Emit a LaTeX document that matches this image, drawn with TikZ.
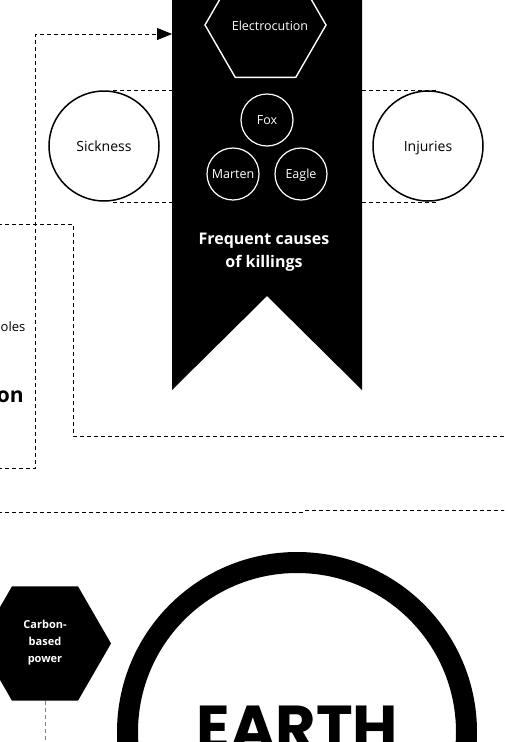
\documentclass[tikz,border=0pt]{standalone}
\usepackage{fontspec}
\setmainfont{Open Sans}
\newfontfamily\earthfont{Poppins}
\usetikzlibrary{arrows.meta,shapes.geometric}
\begin{document}
\begin{tikzpicture}[x=1pt,y=-1pt,
  dashline/.style={draw=black, line width=0.9pt, dash pattern=on 4pt off 3pt},
  whitecirc/.style={circle, draw=white, line width=1.2pt, minimum size=52pt, inner sep=0pt, text=white, text height=9pt, text depth=0pt, font=\fontsize{12.5}{14}\selectfont},
  bigcirc/.style={circle, draw=black, line width=1.5pt, minimum size=110pt, inner sep=0pt, text height=10pt, text depth=0pt, font=\fontsize{14}{16}\selectfont},
  hexa/.style={regular polygon, regular polygon sides=6, inner sep=0pt},
]
\useasboundingbox (0,0) rectangle (504,742);
\clip (0,0) rectangle (504,742);

% banner
\fill[black] (172,-2) -- (362,-2) -- (362,390) -- (267,296) -- (172,390) -- cycle;
\coordinate (bannerTL) at (172,34);

\node[hexa, draw=white, line width=1.4pt, minimum size=121pt] (elec) at (265.5,25) {};
\node[text=white, text height=9pt, text depth=0pt, font=\fontsize{12.5}{14}\selectfont] (electext) at (270,25.5) {Electrocution};

\node[whitecirc] (fox) at (267,120) {Fox};
\node[whitecirc] (marten) at (233,174) {Marten};
\node[whitecirc] (eagle) at (301,174) {Eagle};

\node[text=white, font=\fontsize{16}{23}\selectfont\bfseries, align=center] (freq) at (264,252) {Frequent causes\\of killings};

% side circles
\node[bigcirc] (sick) at (104,146) {Sickness};
\node[bigcirc] (inj) at (428,146) {Injuries};

\coordinate (sickT) at (113,90);
\coordinate (sickB) at (113,202);
\coordinate (bannerLT) at (172,90);
\coordinate (bannerLB) at (172,202);
\coordinate (bannerRT) at (362,90);
\coordinate (bannerRB) at (362,202);
\coordinate (injT) at (437,90);
\coordinate (injB) at (437,202);
\draw[dashline] (sickT) -- (bannerLT);
\draw[dashline] (sickB) -- (bannerLB);
\draw[dashline] (bannerRT) -- (injT);
\draw[dashline] (bannerRB) -- (injB);

% dashed arrow into banner
\coordinate (arrStart) at (-2,468);
\coordinate (arrCorner1) at (35.5,468);
\coordinate (arrCorner2) at (35.5,34);
\draw[dashline, -{Triangle[length=15pt,width=12pt]}] (arrStart) -- (arrCorner1) -- (arrCorner2) -- (bannerTL);

% second dashed route
\coordinate (r2a) at (-2,224);
\coordinate (r2b) at (73,224);
\coordinate (r2c) at (73,436);
\coordinate (r2d) at (506,436);
\draw[dashline] (r2a) -- (r2b) -- (r2c) -- (r2d);

% horizontal separators
\coordinate (s1a) at (-2,512);
\coordinate (s1b) at (305,512);
\coordinate (s2a) at (305,510.5);
\coordinate (s2b) at (506,510.5);
\draw[dashline] (s1a) -- (s1b);
\draw[dashline] (s2a) -- (s2b);

% cut-off texts on the left
\node[anchor=base east, inner sep=0pt, font=\fontsize{13}{15}\selectfont] (oles) at (25.5,331) {oles};
\node[anchor=base east, inner sep=0pt, font=\fontsize{21}{24}\selectfont\bfseries] (on) at (24,402) {on};

% carbon-based power
\node[hexa, fill=black, minimum size=132pt] (carbon) at (45,643.5) {};
\node[text=white, align=center, font=\fontsize{11}{17}\selectfont\bfseries] (carbontext) at (45,643) {Carbon-\\based\\power};
\coordinate (carbonDown) at (45,744);
\draw[draw=gray, line width=1pt, dash pattern=on 4pt off 3pt] (carbon.south) -- (carbonDown);

% earth
\draw[line width=21pt] (297,732) circle (169.5);
\node[anchor=base, inner sep=0pt, font=\earthfont\fontsize{62}{62}\selectfont\bfseries] (earth) at (297.5,749) {EARTH};
\end{tikzpicture}
\end{document}
